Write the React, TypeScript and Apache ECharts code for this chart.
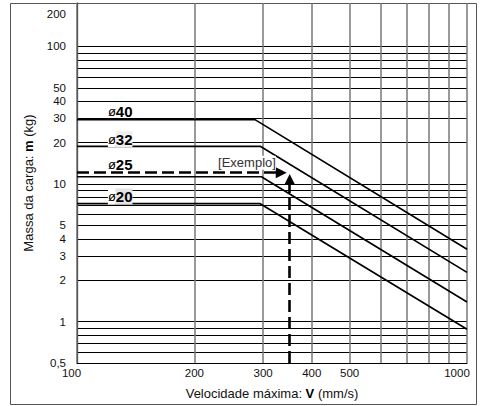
import React, { useEffect, useRef } from 'react';
import * as echarts from 'echarts';

const FONT = '"Liberation Sans", Arial, Helvetica, sans-serif';

// Axis ticks / grid
const xTickLabels = [100, 200, 300, 400, 500, 1000];
const xGridValues = [100, 200, 300, 400, 500, 600, 700, 800, 900, 1000];
const yTickLabels = [0.5, 1, 2, 3, 4, 5, 10, 20, 30, 40, 50, 100, 200];
const yGridValues = [0.6, 0.7, 0.8, 0.9, 1, 2, 3, 4, 5, 6, 7, 8, 9, 10, 20, 30, 40, 50, 60, 70, 80, 90, 100];

// Bore curves (velocity mm/s, load mass kg)
const boreNames = ['ø40', 'ø32', 'ø25', 'ø20'];
const boreNumbers = ['40', '32', '25', '20'];
const startVelocity = [100, 100, 100, 100];
const breakVelocity = [286, 295, 297, 295];
const plateauMass = [29.4, 18.8, 11.3, 7.2];
const endVelocity = [1000, 1000, 1000, 1000];
const endMass = [3.36, 2.28, 1.39, 0.88];

// Curve label anchors (data space)
const labelVelocity = [120, 120, 120, 120];
const labelMass = [33.7, 21.2, 13.95, 8.11];
const labelNumberBg = ['transparent', '#efefef', 'transparent', '#e4e4e4'];
const labelSymbolBg = ['transparent', '#ffffff', 'transparent', '#ffffff'];

// Example
const exampleText = '[Exemplo]';
const exampleLabelAt = [230, 14.3];
const exampleHFrom = [100, 12.1];
const exampleHTo = [334, 12.1];
const exampleVFrom = [351, 0.5];
const exampleVTo = [351, 10.8];

export default function App() {
  const ref = useRef<HTMLDivElement>(null);

  useEffect(() => {
    if (!ref.current) return;
    const chart = echarts.init(ref.current, undefined, { renderer: 'svg' });

    const curveSeries = boreNames.map((name, i) => ({
      type: 'line',
      name,
      data: [
        [startVelocity[i], plateauMass[i]],
        [breakVelocity[i], plateauMass[i]],
        [endVelocity[i], endMass[i]],
      ],
      showSymbol: false,
      symbol: 'none',
      silent: true,
      lineStyle: { color: '#000', width: 1.7 },
      z: 3,
      markPoint: {
        silent: true,
        symbol: 'rect',
        symbolSize: 0,
        data: [{ coord: [labelVelocity[i], labelMass[i]], value: name }],
        label: {
          show: true,
          position: 'right',
          distance: 0,
          formatter: `{p|ø}{n|${boreNumbers[i]}}`,
          rich: {
            p: {
              fontFamily: FONT,
              fontSize: 13,
              color: '#000',
              backgroundColor: labelSymbolBg[i],
              lineHeight: 16,
              height: 16,
            },
            n: {
              fontFamily: FONT,
              fontSize: 15,
              fontWeight: 'bold',
              color: '#000',
              backgroundColor: labelNumberBg[i],
              lineHeight: 16,
              height: 16,
            },
          },
        },
      },
    }));

    const exampleSeries = {
      type: 'line',
      data: [],
      silent: true,
      z: 4,
      markLine: {
        silent: true,
        animation: false,
        symbol: ['none', 'triangle'],
        symbolSize: 11,
        label: { show: false },
        lineStyle: { color: '#000', width: 2.6, type: [12, 5] },
        itemStyle: { color: '#000' },
        data: [
          [{ coord: exampleHFrom }, { coord: exampleHTo }],
          [{ coord: exampleVFrom }, { coord: exampleVTo }],
        ],
      },
      markPoint: {
        silent: true,
        symbol: 'rect',
        symbolSize: 0,
        data: [{ coord: exampleLabelAt, value: exampleText }],
        label: {
          show: true,
          position: 'right',
          distance: 0,
          formatter: exampleText,
          fontFamily: FONT,
          fontSize: 13,
          color: '#333',
          backgroundColor: '#fff',
          lineHeight: 14,
        },
      },
    };

    const option: any = {
      animation: false,
      backgroundColor: '#fff',
      textStyle: { fontFamily: FONT },
      grid: { left: 77, right: 16, top: 3, bottom: 43, containLabel: false },
      graphic: [
        {
          type: 'rect',
          silent: true,
          z: -10,
          shape: { x: 10.5, y: 3.5, width: 466, height: 401 },
          style: { fill: 'none', stroke: '#555', lineWidth: 1 },
        },
      ],
      xAxis: {
        type: 'log',
        logBase: 10,
        min: 100,
        max: 1000,
        axisLine: { show: true, lineStyle: { color: '#000', width: 1 } },
        axisTick: { show: false, customValues: xGridValues },
        splitLine: { show: true, lineStyle: { color: '#777', width: 1.5 } },
        minorTick: { show: false },
        minorSplitLine: { show: false },
        axisLabel: {
          customValues: xTickLabels,
          margin: 4,
          fontFamily: FONT,
          fontSize: 11.5,
          color: '#111',
          formatter: (v: number) => {
            const r = Math.round(v);
            if (r === 100) return '{l|100}';
            if (r === 1000) return '{r|1000}';
            return String(r);
          },
          rich: {
            l: { fontFamily: FONT, fontSize: 11.5, color: '#111', padding: [0, 11, 0, 0] },
            r: { fontFamily: FONT, fontSize: 11.5, color: '#111', padding: [0, 20, 0, 0] },
          },
        },
        name: 'Velocidade máxima: {b|V} (mm/s)',
        nameLocation: 'middle',
        nameGap: 24,
        nameTextStyle: {
          fontFamily: FONT,
          fontSize: 13,
          color: '#111',
          rich: { b: { fontFamily: FONT, fontSize: 13, fontWeight: 'bold', color: '#000' } },
        },
      },
      yAxis: {
        type: 'log',
        logBase: 10,
        min: 0.5,
        max: 207,
        axisLine: { show: true, lineStyle: { color: '#555', width: 1.3 } },
        axisTick: { show: false, customValues: yGridValues },
        splitLine: { show: true, lineStyle: { color: '#000', width: 1 } },
        minorTick: { show: false },
        minorSplitLine: { show: false },
        axisLabel: {
          customValues: yTickLabels,
          margin: 11,
          fontFamily: FONT,
          fontSize: 11.5,
          color: '#111',
          formatter: (v: number) => {
            const r = Math.round(v * 100) / 100;
            if (r === 0.5) return '0,5';
            if (r === 200) return '{s|200}';
            return String(r);
          },
          rich: {
            s: { fontFamily: FONT, fontSize: 11.5, color: '#111', padding: [17, 0, 0, 0] },
          },
        },
        name: 'Massa da carga: {b|m} (kg)',
        nameLocation: 'middle',
        nameRotate: 90,
        nameGap: 42,
        nameTextStyle: {
          fontFamily: FONT,
          fontSize: 13,
          color: '#111',
          rich: { b: { fontFamily: FONT, fontSize: 13, fontWeight: 'bold', color: '#000' } },
        },
      },
      series: [...curveSeries, exampleSeries],
    };

    chart.setOption(option);
    return () => chart.dispose();
  }, []);

  return (
    <div
      ref={ref}
      style={{ position: 'absolute', left: 0, top: 0, width: 483, height: 406, background: '#fff' }}
    />
  );
}
